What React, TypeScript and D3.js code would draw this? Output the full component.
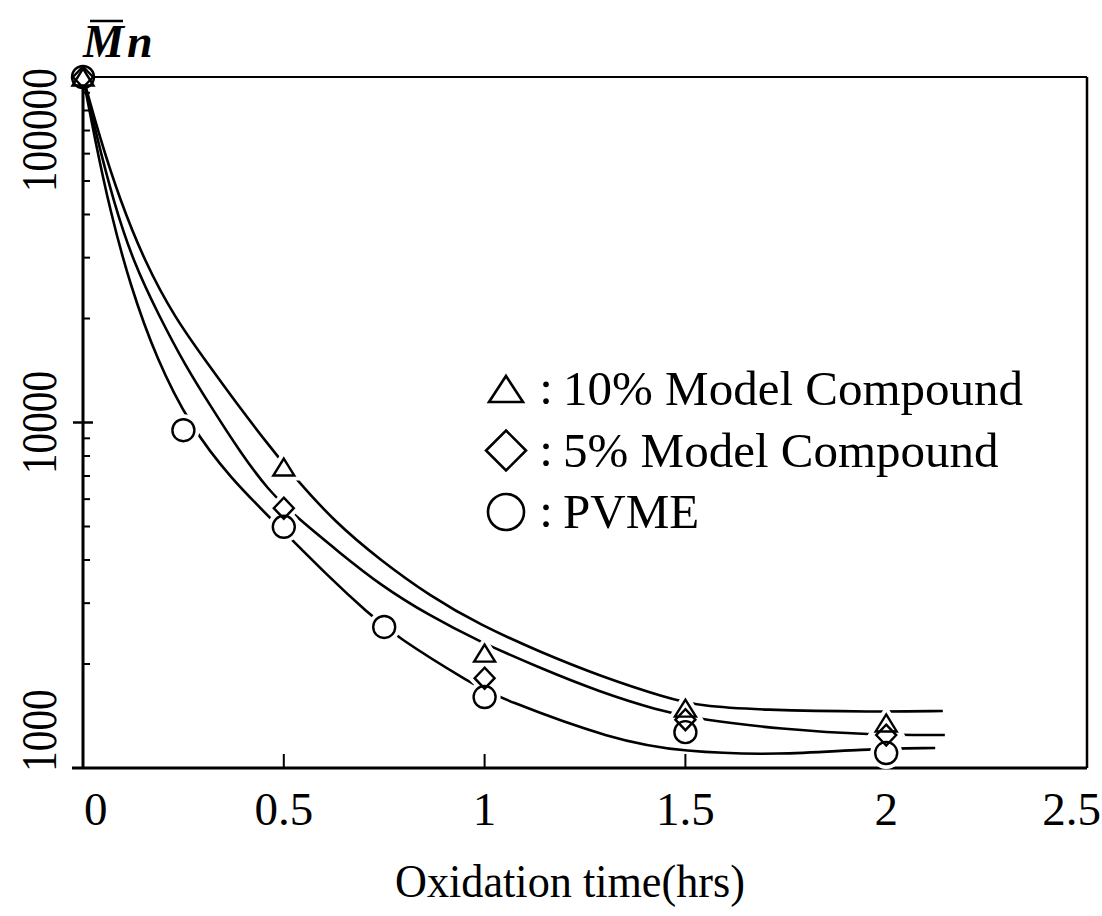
import React from "react";
import * as d3 from "d3";

// ---------- data ----------
const xTicks = [0, 0.5, 1, 1.5, 2, 2.5];
const xTickLabels = ["0", "0.5", "1", "1.5", "2", "2.5"];
const yTicks = [1000, 10000, 100000];
const yTickLabels = ["1000", "10000", "100000"];
const xTitle = "Oxidation time(hrs)";

const seriesNames = ["10% Model Compound", "5% Model Compound", "PVME"];
const seriesShapes = ["triangle", "diamond", "circle"];

const triTime = [0, 0.5, 1, 1.5, 2];
const triMn = [100000, 7430, 2150, 1490, 1350];
const diaTime = [0, 0.5, 1, 1.5, 2];
const diaMn = [100000, 5650, 1820, 1380, 1245];
const cirTime = [0, 0.25, 0.5, 0.75, 1, 1.5, 2];
const cirMn = [100000, 9500, 4990, 2560, 1605, 1270, 1105];

// fitted curves
const fitTopTime = [0, 0.042, 0.092, 0.154, 0.229, 0.304, 0.391, 0.466, 0.528, 0.627, 0.74, 0.864, 0.989, 1.138, 1.287, 1.454, 1.536, 1.686, 1.972, 2.141];
const fitTopMn = [100000, 66600, 44050, 29140, 20070, 15170, 11010, 8494, 6910, 5152, 4000, 3147, 2594, 2167, 1846, 1594, 1512, 1472, 1453, 1462];
const fitMidTime = [0, 0.035, 0.075, 0.125, 0.192, 0.254, 0.316, 0.391, 0.461, 0.528, 0.64, 0.74, 0.864, 0.984, 1.138, 1.287, 1.429, 1.541, 1.736, 1.96, 2.146];
const fitMidMn = [100000, 66600, 44050, 29140, 20070, 14670, 11240, 8216, 6377, 5362, 4192, 3386, 2754, 2331, 1947, 1660, 1472, 1377, 1297, 1246, 1246];
const fitLowTime = [0, 0.03, 0.067, 0.117, 0.184, 0.266, 0.366, 0.496, 0.615, 0.707, 0.777, 0.969, 1.043, 1.32, 1.494, 1.736, 1.942, 2.122];
const fitLowMn = [100000, 65730, 41220, 25000, 15170, 9835, 6910, 4886, 3548, 2828, 2410, 1750, 1584, 1205, 1112, 1090, 1135, 1143];

// ---------- layout ----------
const W = 1102;
const H = 916;
const X0 = 83;
const X1 = 1087;
const Y0 = 77;
const Y1 = 768;

const x = d3.scaleLinear().domain([0, 2.5]).range([X0, X1]);
const y = d3.scaleLog().domain([1000, 100000]).range([Y1, Y0]);

const line = d3
  .line<[number, number]>()
  .x((d) => x(d[0]))
  .y((d) => y(d[1]))
  .curve(d3.curveBasis);

const zip = (a: number[], b: number[]) => a.map((v, i) => [v, b[i]] as [number, number]);

function shapePath(shape: string, cx: number, cy: number, w: number, h: number) {
  if (shape === "triangle") {
    return `M${cx},${cy - h / 2}L${cx + w / 2},${cy + h / 2}L${cx - w / 2},${cy + h / 2}Z`;
  }
  if (shape === "diamond") {
    return `M${cx},${cy - h / 2}L${cx + w / 2},${cy}L${cx},${cy + h / 2}L${cx - w / 2},${cy}Z`;
  }
  const r = w / 2;
  return `M${cx - r},${cy}A${r},${r} 0 1,0 ${cx + r},${cy}A${r},${r} 0 1,0 ${cx - r},${cy}Z`;
}

const pointSets = [
  { shape: "triangle", pts: zip(triTime, triMn), w: 21, h: 17 },
  { shape: "diamond", pts: zip(diaTime, diaMn), w: 20, h: 21 },
  { shape: "circle", pts: zip(cirTime, cirMn), w: 22, h: 22 },
];

const curves = [zip(fitTopTime, fitTopMn), zip(fitMidTime, fitMidMn), zip(fitLowTime, fitLowMn)];

const legendMarker = [
  { w: 34, h: 26 },
  { w: 40, h: 40 },
  { w: 36, h: 36 },
];

const serif = "'Liberation Serif', 'DejaVu Serif', serif";

export default function App() {
  const minor: number[] = [];
  [1000, 10000].forEach((dec) => {
    for (let m = 2; m <= 9; m++) minor.push(dec * m);
  });

  const yLabelLen = (s: string) => s.length * 20.7;

  return (
    <svg
      width={W}
      height={H}
      viewBox={`0 0 ${W} ${H}`}
      style={{ position: "absolute", left: 0, top: 0, background: "#fff", display: "block" }}
    >
      <rect x={0} y={0} width={W} height={H} fill="#fff" />

      {/* Mn label */}
      <text x={83} y={57} fontFamily={serif} fontStyle="italic" fontWeight="bold" fontSize={46} fill="#000">
        M<tspan dx={3}>n</tspan>
      </text>
      <line x1={90} x2={123} y1={21} y2={21} stroke="#000" strokeWidth={2.5} />

      {/* frame */}
      <line x1={X0} x2={X1} y1={Y0} y2={Y0} stroke="#000" strokeWidth={2} />
      <line x1={X1} x2={X1} y1={Y0} y2={Y1} stroke="#000" strokeWidth={2.5} />
      <line x1={X0} x2={X0} y1={Y0} y2={Y1} stroke="#000" strokeWidth={3} />
      <line x1={X0 - 11} x2={X1} y1={Y1} y2={Y1} stroke="#000" strokeWidth={3} />

      {/* y minor ticks */}
      {minor.map((v) => (
        <line key={"m" + v} x1={X0} x2={X0 + 7} y1={y(v)} y2={y(v)} stroke="#000" strokeWidth={2} />
      ))}
      <line x1={X0 - 10} x2={X0 + 10} y1={y(10000)} y2={y(10000)} stroke="#000" strokeWidth={2.5} />

      {/* x ticks */}
      {xTicks.slice(1, -1).map((t) => (
        <line key={"xt" + t} x1={x(t)} x2={x(t)} y1={Y1} y2={Y1 - 14} stroke="#000" strokeWidth={2} />
      ))}

      {/* x tick labels */}
      {xTicks.map((t, i) => {
        const last = i === xTicks.length - 1;
        const first = i === 0;
        return (
          <text
            key={"xl" + t}
            x={first ? X0 + 1 : last ? W - 1 : x(t)}
            y={825}
            textAnchor={first ? "start" : last ? "end" : "middle"}
            fontFamily={serif}
            fontSize={47}
            fill="#000"
          >
            {xTickLabels[i]}
          </text>
        );
      })}

      {/* y tick labels (rotated) */}
      {yTicks.map((t, i) => {
        const len = yLabelLen(yTickLabels[i]);
        const cy = Math.max(Y0 - 9 + len / 2, Math.min(y(t), Y1 + 4 - len / 2));
        return (
          <text
            key={"yl" + t}
            transform={`translate(56,${cy}) rotate(-90)`}
            textAnchor="middle"
            fontFamily={serif}
            fontSize={50}
            textLength={len}
            lengthAdjust="spacingAndGlyphs"
            fill="#000"
          >
            {yTickLabels[i]}
          </text>
        );
      })}

      {/* x title */}
      <text
        x={570}
        y={897}
        textAnchor="middle"
        fontFamily={serif}
        fontSize={47}
        textLength={350}
        lengthAdjust="spacingAndGlyphs"
        fill="#000"
      >
        {xTitle}
      </text>

      {/* curves */}
      {curves.map((c, i) => (
        <path key={"c" + i} d={line(c) || ""} fill="none" stroke="#000" strokeWidth={2.6} />
      ))}

      {/* marker halos */}
      {pointSets.map((s) =>
        s.pts.map((p, j) => (
          <path
            key={"h" + s.shape + j}
            d={shapePath(s.shape, x(p[0]), y(p[1]), s.w, s.h)}
            fill="#fff"
            stroke="#fff"
            strokeWidth={j === 0 ? 0 : 10}
          />
        ))
      )}
      {/* markers */}
      {pointSets.map((s) =>
        s.pts.map((p, j) => (
          <path
            key={"p" + s.shape + j}
            d={shapePath(s.shape, x(p[0]), y(p[1]), s.w, s.h)}
            fill="none"
            stroke="#000"
            strokeWidth={2.4}
          />
        ))
      )}

      {/* legend */}
      {seriesNames.map((name, i) => {
        const cy = 389 + i * 61.5;
        return (
          <g key={"lg" + i}>
            <path
              d={shapePath(seriesShapes[i], 506, cy, legendMarker[i].w, legendMarker[i].h)}
              fill="none"
              stroke="#000"
              strokeWidth={2.6}
            />
            <text x={546} y={cy + 15} textAnchor="middle" fontFamily={serif} fontSize={49} fill="#000">
              :
            </text>
            <text x={563} y={cy + 16} fontFamily={serif} fontSize={49} fill="#000">
              {name}
            </text>
          </g>
        );
      })}
    </svg>
  );
}
